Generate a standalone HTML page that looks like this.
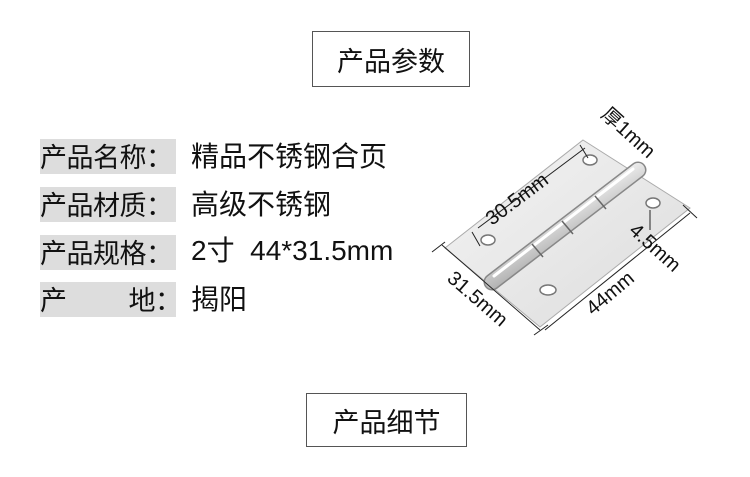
<!DOCTYPE html>
<html><head><meta charset="utf-8"><style>
body{margin:0;width:750px;height:477px;background:#fff;position:relative;overflow:hidden;font-family:"Noto Sans CJK SC","Liberation Sans",sans-serif;color:#111}
.box{position:absolute;border:1.5px solid #555;box-sizing:border-box;display:flex;align-items:center;justify-content:center;font-size:27px;font-family:"Noto Sans CJK SC",sans-serif}
.lab{position:absolute;left:40px;width:136px;background:#ddd;font-size:27px;line-height:34px;height:35px;white-space:nowrap;font-family:"Noto Sans CJK SC",sans-serif;letter-spacing:-0.5px}
.val{position:absolute;left:191px;font-size:28px;line-height:36px;white-space:nowrap;font-family:"Noto Sans CJK SC",sans-serif}
</style></head><body>
<div class="box" style="left:312px;top:31px;width:158px;height:56px">产品参数</div>
<div class="box" style="left:306px;top:393px;width:161px;height:54px">产品细节</div>
<div class="lab" style="top:139px">产品名称：</div><div class="val" style="top:137px">精品不锈钢合页</div>
<div class="lab" style="top:187px">产品材质：</div><div class="val" style="top:185px">高级不锈钢</div>
<div class="lab" style="top:235px">产品规格：</div><div class="val" style="top:233px;font-family:'Liberation Sans','Noto Sans CJK SC',sans-serif">2寸&nbsp; 44*31.5mm</div>
<div class="lab" style="top:282px">产<span style="display:inline-block;width:62px"></span>地：</div><div class="val" style="top:280px">揭阳</div>
<svg width="750" height="477" style="position:absolute;left:0;top:0">
<defs><linearGradient id="g" x1="0" y1="0" x2="1" y2="1"><stop offset="0" stop-color="#f4f4f4"/><stop offset="1" stop-color="#dcdcdc"/></linearGradient>
<linearGradient id="p" x1="0" y1="0" x2="0.6" y2="0.8"><stop offset="0" stop-color="#aaa"/><stop offset=".45" stop-color="#fcfcfc"/><stop offset="1" stop-color="#999"/></linearGradient></defs>
<polygon points="583,140 690,208 540,327 445,248" fill="url(#g)" stroke="#aaa"/>
<line x1="492" y1="282" x2="638" y2="170" stroke="#888" stroke-width="17" stroke-linecap="round"/>
<line x1="492" y1="282" x2="638" y2="170" stroke="url(#p)" stroke-width="14" stroke-linecap="round"/>
<line x1="494" y1="276" x2="633" y2="169" stroke="#fff" stroke-width="3" stroke-linecap="round"/>
<g stroke="#666" stroke-width="1.5"><line x1="532" y1="244" x2="543" y2="257"/><line x1="562" y1="221" x2="573" y2="234"/><line x1="595" y1="196" x2="606" y2="209"/></g>
<ellipse cx="488" cy="240" rx="7" ry="5" fill="#fff" stroke="#777" stroke-width="1.5"/>
<ellipse cx="590" cy="160" rx="7" ry="5" fill="#fff" stroke="#777" stroke-width="1.5"/>
<ellipse cx="548" cy="290" rx="8" ry="5" fill="#fff" stroke="#777" stroke-width="1.5"/>
<ellipse cx="653" cy="203" rx="7" ry="5" fill="#fff" stroke="#777" stroke-width="1.5"/>
<g stroke="#222" stroke-width="1" fill="none">
<line x1="478" y1="228" x2="585" y2="148"/><line x1="472" y1="232" x2="480" y2="246"/><line x1="580" y1="145" x2="588" y2="158"/>
<line x1="442" y1="245" x2="540" y2="330"/><line x1="432" y1="252" x2="445" y2="242"/><line x1="534" y1="335" x2="548" y2="325"/>
<line x1="545" y1="330" x2="690" y2="213"/><line x1="683" y1="205" x2="697" y2="218"/>
<line x1="650" y1="210" x2="650" y2="230"/>
</g>
<g font-size="20" fill="#111" font-family="Liberation Sans,Noto Sans CJK SC,sans-serif">
<text transform="translate(492,226) rotate(-37)">30.5mm</text>
<text transform="translate(446,280) rotate(41)">31.5mm</text>
<text transform="translate(593,316) rotate(-40)">44mm</text>
<text transform="translate(628,232) rotate(42)">4.5mm</text>
<text transform="translate(600,116) rotate(42)">厚1mm</text>
</g>
</svg>
</body></html>
